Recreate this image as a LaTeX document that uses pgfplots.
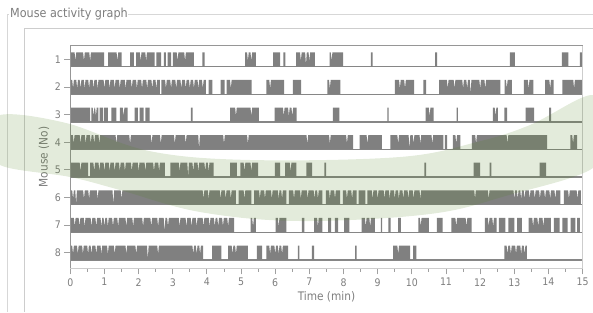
\documentclass[border=0pt]{standalone}
\usepackage{fontspec}
\setmainfont{DejaVu Sans Condensed}
\usepackage{pgfplots}
\usepackage{pgfplotstable}
\pgfplotsset{compat=1.18}
\definecolor{barc}{RGB}{128,128,128}
\definecolor{basec}{RGB}{135,135,135}
\definecolor{txt}{RGB}{125,125,125}
\definecolor{framec}{RGB}{150,150,150}
\definecolor{axc}{RGB}{205,205,205}
\definecolor{tickc}{RGB}{160,160,160}
\definecolor{wm}{RGB}{80,130,30}
\definecolor{fs}{RGB}{215,215,215}
\definecolor{panelc}{RGB}{205,205,205}

% activity of each mouse: x = time (min), v = 1 active / 0 idle (notches = short pauses)
\pgfplotstableread[row sep=\\]{x v\\
0 0\\0 1\\0.125 1\\0.15 0.4\\0.175 1\\0.375 1\\0.4 0.4\\0.425 1\\0.555 1\\0.58 0.4\\0.605 1\\0.99 1\\0.99 0\\
1.11 0\\1.11 1\\1.355 1\\1.38 0.4\\1.405 1\\1.5 1\\1.5 0\\
1.75 0\\1.75 1\\1.86 1\\1.86 0\\
1.93 0\\1.93 1\\2.035 1\\2.06 0.4\\2.085 1\\2.195 1\\2.22 0.4\\2.245 1\\2.47 1\\2.47 0\\
2.52 0\\2.52 1\\2.66 1\\2.66 0\\
2.74 0\\2.74 1\\2.8 1\\2.8 0\\
2.85 0\\2.85 1\\2.95 1\\2.95 0\\
3 0\\3 1\\3.115 1\\3.14 0.4\\3.165 1\\3.335 1\\3.36 0.4\\3.385 1\\3.62 1\\3.62 0\\
3.87 0\\3.87 1\\3.93 1\\3.93 0\\
5.12 0\\5.12 1\\5.175 1\\5.2 0.4\\5.225 1\\5.275 1\\5.3 0.4\\5.325 1\\5.43 1\\5.43 0\\
5.94 0\\5.94 1\\6.14 1\\6.14 0\\
6.24 0\\6.24 1\\6.3 1\\6.3 0\\
6.61 0\\6.61 1\\6.725 1\\6.75 0.4\\6.775 1\\6.875 1\\6.9 0.1\\6.925 1\\6.975 1\\7 0.4\\7.025 1\\7.16 1\\7.16 0\\
7.59 0\\7.59 1\\7.625 1\\7.65 0.4\\7.675 1\\7.99 1\\7.99 0\\
8.8 0\\8.8 1\\8.85 1\\8.85 0\\
10.68 0\\10.68 1\\10.74 1\\10.74 0\\
12.87 0\\12.87 1\\13.02 1\\13.02 0\\
14.39 0\\14.39 1\\14.58 1\\14.58 0\\
14.92 0\\14.92 1\\14.98 1\\14.98 0\\
15 0\\
}\rA

\pgfplotstableread[row sep=\\]{x v\\
0 0\\0 1\\0.055 1\\0.08 0.4\\0.105 1\\0.175 1\\0.2 0.4\\0.225 1\\0.275 1\\0.3 0.4\\0.325 1\\0.395 1\\0.42 0.4\\0.445 1\\
0.525 1\\0.55 0.4\\0.575 1\\0.655 1\\0.68 0.4\\0.705 1\\0.775 1\\0.8 0.4\\0.825 1\\0.975 1\\1 0.4\\1.025 1\\
1.125 1\\1.15 0.4\\1.175 1\\1.275 1\\1.3 0.4\\1.325 1\\1.425 1\\1.45 0.4\\1.475 1\\1.595 1\\1.62 0.4\\1.645 1\\
1.775 1\\1.8 0.4\\1.825 1\\1.925 1\\1.95 0.4\\1.975 1\\2.075 1\\2.1 0.4\\2.125 1\\2.225 1\\2.25 0.4\\2.275 1\\
2.375 1\\2.4 0.4\\2.425 1\\2.495 1\\2.52 0.4\\2.545 1\\2.62 1\\2.62 0\\
2.67 0\\2.67 1\\2.775 1\\2.8 0.4\\2.825 1\\2.925 1\\2.95 0.4\\2.975 1\\3.075 1\\3.1 0.4\\3.125 1\\3.225 1\\3.25 0.4\\3.275 1\\
3.355 1\\3.38 0.4\\3.405 1\\3.475 1\\3.5 0.4\\3.525 1\\3.595 1\\3.62 0.4\\3.645 1\\3.725 1\\3.75 0.4\\3.775 1\\3.855 1\\3.88 0.4\\3.905 1\\3.97 1\\3.97 0\\
4.05 0\\4.05 1\\4.16 1\\4.16 0\\
4.4 0\\4.4 1\\4.52 1\\4.52 0\\
4.58 0\\4.58 1\\4.675 1\\4.7 0.4\\4.725 1\\5.31 1\\5.31 0\\
5.74 0\\5.74 1\\5.825 1\\5.85 0.4\\5.875 1\\6.26 1\\6.26 0\\
6.52 0\\6.52 1\\6.76 1\\6.76 0\\
7.53 0\\7.53 1\\7.575 1\\7.6 0.4\\7.625 1\\7.91 1\\7.91 0\\
9.5 0\\9.5 1\\9.625 1\\9.65 0.4\\9.675 1\\9.775 1\\9.8 0.4\\9.825 1\\10.07 1\\10.07 0\\
10.34 0\\10.34 1\\10.42 1\\10.42 0\\
10.8 0\\10.8 1\\11.025 1\\11.05 0.4\\11.075 1\\11.225 1\\11.25 0.4\\11.275 1\\11.475 1\\11.5 0.4\\11.525 1\\11.595 1\\11.62 0.4\\11.645 1\\
11.695 1\\11.72 0.05\\11.745 1\\11.975 1\\12 0.4\\12.025 1\\12.125 1\\12.15 0.4\\12.175 1\\12.59 1\\12.59 0\\
12.72 0\\12.72 1\\12.755 1\\12.78 0.4\\12.805 1\\12.93 1\\12.93 0\\
13.28 0\\13.28 1\\13.395 1\\13.42 0.4\\13.445 1\\13.56 1\\13.56 0\\
13.9 0\\13.9 1\\14.025 1\\14.05 0.4\\14.075 1\\14.15 1\\14.15 0\\
14.41 0\\14.41 1\\14.725 1\\14.75 0.4\\14.775 1\\14.98 1\\14.98 0\\
15 0\\
}\rB

\pgfplotstableread[row sep=\\]{x v\\
0 0\\0 1\\0.58 1\\0.58 0\\
0.62 0\\0.62 1\\0.655 1\\0.68 0.4\\0.705 1\\0.725 1\\0.75 0.4\\0.775 1\\0.82 1\\0.82 0\\
0.86 0\\0.86 1\\0.96 1\\0.96 0\\
0.99 0\\0.99 1\\1.1 1\\1.1 0\\
1.2 0\\1.2 1\\1.35 1\\1.35 0\\
1.45 0\\1.45 1\\1.535 1\\1.56 0.4\\1.585 1\\1.68 1\\1.68 0\\
1.88 0\\1.88 1\\1.98 1\\1.98 0\\
2.03 0\\2.03 1\\2.15 1\\2.15 0\\
2.2 0\\2.2 1\\2.32 1\\2.32 0\\
3.53 0\\3.53 1\\3.58 1\\3.58 0\\
4.68 0\\4.68 1\\4.825 1\\4.85 0.4\\4.875 1\\5.275 1\\5.3 0.4\\5.325 1\\5.52 1\\5.52 0\\
5.98 0\\5.98 1\\6.225 1\\6.25 0.4\\6.275 1\\6.375 1\\6.4 0.4\\6.425 1\\6.475 1\\6.5 0.4\\6.525 1\\6.63 1\\6.63 0\\
7.69 0\\7.69 1\\7.88 1\\7.88 0\\
9.28 0\\9.28 1\\9.32 1\\9.32 0\\
10.4 0\\10.4 1\\10.495 1\\10.52 0.4\\10.545 1\\10.64 1\\10.64 0\\
11.31 0\\11.31 1\\11.35 1\\11.35 0\\
12.37 0\\12.37 1\\12.425 1\\12.45 0.4\\12.475 1\\12.52 1\\12.52 0\\
12.71 0\\12.71 1\\12.79 1\\12.79 0\\
13.33 0\\13.33 1\\13.58 1\\13.58 0\\
14.02 0\\14.02 1\\14.08 1\\14.08 0\\
15 0\\
}\rC

\pgfplotstableread[row sep=\\]{x v\\
0 0\\0 1\\0.075 1\\0.1 0.4\\0.125 1\\0.275 1\\0.3 0.4\\0.325 1\\0.425 1\\0.45 0.4\\0.475 1\\0.575 1\\0.6 0.4\\0.625 1\\
0.675 1\\0.7 0.4\\0.725 1\\0.825 1\\0.85 0.4\\0.875 1\\1.325 1\\1.35 0.4\\1.375 1\\1.725 1\\1.75 0.4\\1.775 1\\
2.355 1\\2.38 0.4\\2.405 1\\2.625 1\\2.65 0.4\\2.675 1\\3.035 1\\3.06 0.4\\3.085 1\\3.355 1\\3.38 0.4\\3.405 1\\
3.745 1\\3.77 0.05\\3.795 1\\4.475 1\\4.5 0.4\\4.525 1\\5.175 1\\5.2 0.4\\5.225 1\\6.915 1\\6.94 0.4\\6.965 1\\
7.575 1\\7.6 0.4\\7.625 1\\8.075 1\\8.1 0.4\\8.125 1\\8.28 1\\8.28 0\\
8.47 0\\8.47 1\\8.675 1\\8.7 0.4\\8.725 1\\9.12 1\\9.12 0\\
9.37 0\\9.37 1\\9.575 1\\9.6 0.4\\9.625 1\\9.905 1\\9.93 0.05\\9.955 1\\10.025 1\\10.05 0.4\\10.075 1\\10.225 1\\10.25 0.4\\10.275 1\\10.575 1\\10.6 0.4\\10.625 1\\10.92 1\\10.92 0\\
10.97 0\\10.97 1\\11.03 1\\11.03 0\\
11.2 0\\11.2 1\\11.275 1\\11.3 0.4\\11.325 1\\11.42 1\\11.42 0\\
11.76 0\\11.76 1\\11.855 1\\11.88 0.4\\11.905 1\\12.775 1\\12.8 0.4\\12.825 1\\13.96 1\\13.96 0\\
14.64 0\\14.64 1\\14.695 1\\14.72 0.4\\14.745 1\\14.84 1\\14.84 0\\
15 0\\
}\rD

\pgfplotstableread[row sep=\\]{x v\\
0 0\\0 1\\0.275 1\\0.3 0.4\\0.325 1\\0.52 1\\0.52 0\\
0.58 0\\0.58 1\\0.675 1\\0.7 0.4\\0.725 1\\0.825 1\\0.85 0.4\\0.875 1\\0.975 1\\1 0.4\\1.025 1\\1.125 1\\1.15 0.4\\1.175 1\\
1.275 1\\1.3 0.4\\1.325 1\\1.425 1\\1.45 0.4\\1.475 1\\1.575 1\\1.6 0.4\\1.625 1\\1.775 1\\1.8 0.4\\1.825 1\\
1.975 1\\2 0.4\\2.025 1\\2.175 1\\2.2 0.4\\2.225 1\\2.425 1\\2.45 0.4\\2.475 1\\2.575 1\\2.6 0.4\\2.625 1\\2.77 1\\2.77 0\\
2.93 0\\2.93 1\\3.175 1\\3.2 0.4\\3.225 1\\3.425 1\\3.45 0.05\\3.475 1\\3.575 1\\3.6 0.4\\3.625 1\\3.725 1\\3.75 0.4\\3.775 1\\
3.925 1\\3.95 0.4\\3.975 1\\4.025 1\\4.05 0.4\\4.075 1\\4.2 1\\4.2 0\\
4.68 0\\4.68 1\\4.88 1\\4.88 0\\
4.98 0\\4.98 1\\5.075 1\\5.1 0.4\\5.125 1\\5.275 1\\5.3 0.4\\5.325 1\\5.5 1\\5.5 0\\
5.99 0\\5.99 1\\6.14 1\\6.14 0\\
6.29 0\\6.29 1\\6.425 1\\6.45 0.4\\6.475 1\\6.62 1\\6.62 0\\
6.91 0\\6.91 1\\7.08 1\\7.08 0\\
7.44 0\\7.44 1\\7.49 1\\7.49 0\\
10.37 0\\10.37 1\\10.42 1\\10.42 0\\
11.81 0\\11.81 1\\12 1\\12 0\\
12.28 0\\12.28 1\\12.33 1\\12.33 0\\
13.74 0\\13.74 1\\13.93 1\\13.93 0\\
15 0\\
}\rE

\pgfplotstableread[row sep=\\]{x v\\
0 0\\0 1\\0.055 1\\0.08 0.4\\0.105 1\\0.145 1\\0.17 0.05\\0.195 1\\0.375 1\\0.4 0.4\\0.425 1\\0.525 1\\0.55 0.4\\0.575 1\\
0.775 1\\0.8 0.4\\0.825 1\\1.235 1\\1.26 0.05\\1.285 1\\1.475 1\\1.5 0.4\\1.525 1\\3.875 1\\3.9 0.4\\3.925 1\\
4.025 1\\4.05 0.4\\4.075 1\\4.375 1\\4.4 0.4\\4.425 1\\4.525 1\\4.55 0.4\\4.575 1\\4.675 1\\4.7 0.4\\4.725 1\\4.85 1\\4.85 0\\
4.93 0\\4.93 1\\5.075 1\\5.1 0.4\\5.125 1\\5.3 1\\5.3 0\\
5.38 0\\5.38 1\\5.525 1\\5.55 0.4\\5.575 1\\5.675 1\\5.7 0.4\\5.725 1\\5.875 1\\5.9 0.4\\5.925 1\\6.075 1\\6.1 0.4\\6.125 1\\6.175 1\\6.2 0.4\\6.225 1\\6.33 1\\6.33 0\\
6.4 0\\6.4 1\\6.525 1\\6.55 0.4\\6.575 1\\6.725 1\\6.75 0.4\\6.775 1\\6.925 1\\6.95 0.4\\6.975 1\\7.125 1\\7.15 0.4\\7.175 1\\7.225 1\\7.25 0.4\\7.275 1\\7.38 1\\7.38 0\\
7.48 0\\7.48 1\\7.575 1\\7.6 0.4\\7.625 1\\7.725 1\\7.75 0.4\\7.775 1\\7.9 1\\7.9 0\\
7.98 0\\7.98 1\\8.075 1\\8.1 0.4\\8.125 1\\8.225 1\\8.25 0.4\\8.275 1\\8.38 1\\8.38 0\\
8.44 0\\8.44 1\\8.64 1\\8.64 0\\
8.7 0\\8.7 1\\8.825 1\\8.85 0.4\\8.875 1\\8.975 1\\9 0.4\\9.025 1\\9.175 1\\9.2 0.4\\9.225 1\\9.325 1\\9.35 0.4\\9.375 1\\
9.475 1\\9.5 0.4\\9.525 1\\9.595 1\\9.62 0.4\\9.645 1\\9.725 1\\9.75 0.4\\9.775 1\\9.875 1\\9.9 0.4\\9.925 1\\
10.025 1\\10.05 0.4\\10.075 1\\10.225 1\\10.25 0.4\\10.275 1\\11.825 1\\11.85 0.4\\11.875 1\\12.225 1\\12.25 0.4\\12.275 1\\
12.975 1\\13 0.4\\13.025 1\\13.075 1\\13.1 0.4\\13.125 1\\13.175 1\\13.2 0.4\\13.225 1\\13.275 1\\13.3 0.4\\13.325 1\\
13.425 1\\13.45 0.4\\13.475 1\\13.575 1\\13.6 0.4\\13.625 1\\13.725 1\\13.75 0.4\\13.775 1\\13.875 1\\13.9 0.4\\13.925 1\\
14.025 1\\14.05 0.4\\14.075 1\\14.175 1\\14.2 0.4\\14.225 1\\14.35 1\\14.35 0\\
14.45 0\\14.45 1\\14.575 1\\14.6 0.4\\14.625 1\\14.825 1\\14.85 0.4\\14.875 1\\14.95 1\\14.95 0\\
15 0\\
}\rF

\pgfplotstableread[row sep=\\]{x v\\
0 0\\0 1\\0.105 1\\0.13 0.4\\0.155 1\\0.245 1\\0.27 0.4\\0.295 1\\0.395 1\\0.42 0.4\\0.445 1\\0.595 1\\0.62 0.4\\0.645 1\\
0.735 1\\0.76 0.4\\0.785 1\\0.885 1\\0.91 0.4\\0.935 1\\0.975 1\\1 0.4\\1.025 1\\1.075 1\\1.1 0.4\\1.125 1\\
1.225 1\\1.25 0.4\\1.275 1\\1.375 1\\1.4 0.4\\1.425 1\\1.615 1\\1.64 0.4\\1.665 1\\1.815 1\\1.84 0.4\\1.865 1\\
2.105 1\\2.13 0.4\\2.155 1\\2.345 1\\2.37 0.4\\2.395 1\\2.545 1\\2.57 0.4\\2.595 1\\2.735 1\\2.76 0.05\\2.785 1\\
2.835 1\\2.86 0.4\\2.885 1\\3.175 1\\3.2 0.4\\3.225 1\\3.375 1\\3.4 0.4\\3.425 1\\3.525 1\\3.55 0.4\\3.575 1\\
3.675 1\\3.7 0.4\\3.725 1\\3.875 1\\3.9 0.4\\3.925 1\\4.055 1\\4.08 0.4\\4.105 1\\4.205 1\\4.23 0.4\\4.255 1\\
4.305 1\\4.33 0.4\\4.355 1\\4.445 1\\4.47 0.4\\4.495 1\\4.595 1\\4.62 0.4\\4.645 1\\4.8 1\\4.8 0\\
5.28 0\\5.28 1\\5.325 1\\5.35 0.4\\5.375 1\\5.43 1\\5.43 0\\
6.01 0\\6.01 1\\6.075 1\\6.1 0.4\\6.125 1\\6.33 1\\6.33 0\\
6.78 0\\6.78 1\\6.85 1\\6.85 0\\
7.14 0\\7.14 1\\7.225 1\\7.25 0.4\\7.275 1\\7.38 1\\7.38 0\\
7.55 0\\7.55 1\\7.64 1\\7.64 0\\
7.75 0\\7.75 1\\7.84 1\\7.84 0\\
8.02 0\\8.02 1\\8.17 1\\8.17 0\\
8.53 0\\8.53 1\\8.625 1\\8.65 0.4\\8.675 1\\8.755 1\\8.78 0.4\\8.805 1\\8.92 1\\8.92 0\\
9.09 0\\9.09 1\\9.13 1\\9.13 0\\
9.31 0\\9.31 1\\9.38 1\\9.38 0\\
9.6 0\\9.6 1\\9.68 1\\9.68 0\\
10.19 0\\10.19 1\\10.235 1\\10.26 0.4\\10.285 1\\10.5 1\\10.5 0\\
10.73 0\\10.73 1\\10.9 1\\10.9 0\\
11.16 0\\11.16 1\\11.275 1\\11.3 0.4\\11.325 1\\11.575 1\\11.6 0.4\\11.625 1\\11.75 1\\11.75 0\\
12.14 0\\12.14 1\\12.225 1\\12.25 0.4\\12.275 1\\12.355 1\\12.38 0.4\\12.405 1\\12.48 1\\12.48 0\\
12.55 0\\12.55 1\\12.74 1\\12.74 0\\
12.83 0\\12.83 1\\13 1\\13 0\\
13.08 0\\13.08 1\\13.22 1\\13.22 0\\
13.42 0\\13.42 1\\13.525 1\\13.55 0.4\\13.575 1\\13.675 1\\13.7 0.4\\13.725 1\\13.825 1\\13.85 0.4\\13.875 1\\14.07 1\\14.07 0\\
14.16 0\\14.16 1\\14.33 1\\14.33 0\\
14.41 0\\14.41 1\\14.56 1\\14.56 0\\
14.65 0\\14.65 1\\14.79 1\\14.79 0\\
14.84 0\\14.84 1\\14.92 1\\14.92 0\\
15 0\\
}\rG

\pgfplotstableread[row sep=\\]{x v\\
0 0\\0 1\\0.055 1\\0.08 0.4\\0.105 1\\0.195 1\\0.22 0.4\\0.245 1\\0.345 1\\0.37 0.4\\0.395 1\\0.495 1\\0.52 0.4\\0.545 1\\
0.595 1\\0.62 0.4\\0.645 1\\0.735 1\\0.76 0.4\\0.785 1\\0.885 1\\0.91 0.4\\0.935 1\\1.075 1\\1.1 0.4\\1.125 1\\
1.275 1\\1.3 0.4\\1.325 1\\1.615 1\\1.64 0.4\\1.665 1\\1.905 1\\1.93 0.4\\1.955 1\\2.245 1\\2.27 0.05\\2.295 1\\
2.545 1\\2.57 0.4\\2.595 1\\3.575 1\\3.6 0.4\\3.625 1\\3.675 1\\3.7 0.4\\3.725 1\\3.775 1\\3.8 0.4\\3.825 1\\3.89 1\\3.89 0\\
4.15 0\\4.15 1\\4.42 1\\4.42 0\\
4.62 0\\4.62 1\\4.725 1\\4.75 0.4\\4.775 1\\4.825 1\\4.85 0.4\\4.875 1\\5.2 1\\5.2 0\\
5.46 0\\5.46 1\\5.62 1\\5.62 0\\
5.74 0\\5.74 1\\5.825 1\\5.85 0.4\\5.875 1\\5.975 1\\6 0.4\\6.025 1\\6.075 1\\6.1 0.4\\6.125 1\\6.175 1\\6.2 0.4\\6.225 1\\6.38 1\\6.38 0\\
6.66 0\\6.66 1\\6.71 1\\6.71 0\\
7.07 0\\7.07 1\\7.14 1\\7.14 0\\
8.34 0\\8.34 1\\8.38 1\\8.38 0\\
9.45 0\\9.45 1\\9.575 1\\9.6 0.4\\9.625 1\\9.95 1\\9.95 0\\
10.04 0\\10.04 1\\10.13 1\\10.13 0\\
12.71 0\\12.71 1\\12.775 1\\12.8 0.4\\12.825 1\\12.875 1\\12.9 0.4\\12.925 1\\13.025 1\\13.05 0.4\\13.075 1\\13.175 1\\13.2 0.4\\13.225 1\\13.275 1\\13.3 0.4\\13.325 1\\13.37 1\\13.37 0\\
15 0\\
}\rH

\begin{document}
\begin{tikzpicture}
\begin{axis}[
  name=ax,
  scale only axis, width=512.3bp, height=222.6bp,
  xmin=0, xmax=15, ymin=0.435, ymax=8.5,
  axis line style={draw=none},
  clip=false,
  xtick={0,...,15}, minor x tick num=1,
  ytick={1,...,8}, yticklabels={8,7,6,5,4,3,2,1},
  xtick pos=bottom, ytick pos=left,
  tick align=outside,
  major tick length=6bp, minor tick length=3.5bp,
  every tick/.style={draw=tickc, line width=0.9bp},
  /pgf/number format/assume math mode=true,
  tick label style={font=\fontsize{10.5}{12}\selectfont, text=txt},
  xticklabel style={yshift=-0.5bp},
  xlabel={Time (min)}, ylabel={Mouse (No)},
  xlabel style={at={(axis description cs:0.5,-0.127)}, anchor=center, font=\fontsize{11.8}{13}\selectfont, text=txt},
  ylabel style={at={(axis description cs:-0.0513,0.5)}, anchor=center, font=\fontsize{11.8}{13}\selectfont, text=txt},
]
% baselines
\addplot[basec, line width=1.3bp] coordinates {(0,7.74) (15,7.74)};
\addplot[basec, line width=1.3bp] coordinates {(0,6.74) (15,6.74)};
\addplot[basec, line width=1.3bp] coordinates {(0,5.74) (15,5.74)};
\addplot[basec, line width=1.3bp] coordinates {(0,4.74) (15,4.74)};
\addplot[basec, line width=1.3bp] coordinates {(0,3.74) (15,3.74)};
\addplot[basec, line width=1.3bp] coordinates {(0,2.74) (15,2.74)};
\addplot[basec, line width=1.3bp] coordinates {(0,1.74) (15,1.74)};
\addplot[basec, line width=1.3bp] coordinates {(0,0.74) (15,0.74)};
% activity
\addplot[fill=barc, draw=none] table[x=x, y expr=7.74+0.52*\thisrow{v}] {\rA};
\addplot[fill=barc, draw=none] table[x=x, y expr=6.74+0.52*\thisrow{v}] {\rB};
\addplot[fill=barc, draw=none] table[x=x, y expr=5.74+0.52*\thisrow{v}] {\rC};
\addplot[fill=barc, draw=none] table[x=x, y expr=4.74+0.52*\thisrow{v}] {\rD};
\addplot[fill=barc, draw=none] table[x=x, y expr=3.74+0.52*\thisrow{v}] {\rE};
\addplot[fill=barc, draw=none] table[x=x, y expr=2.74+0.52*\thisrow{v}] {\rF};
\addplot[fill=barc, draw=none] table[x=x, y expr=1.74+0.52*\thisrow{v}] {\rG};
\addplot[fill=barc, draw=none] table[x=x, y expr=0.74+0.52*\thisrow{v}] {\rH};
% frame
\draw[framec, line width=1bp] (axis description cs:0,0) -- (axis description cs:0,1) -- (axis description cs:1,1);
\draw[axc, line width=1bp] (axis description cs:1,1) -- (axis description cs:1,0) -- (axis description cs:0,0);
\end{axis}
\begin{scope}[shift={(ax.south west)}, shift={(-70.3bp,-43.7bp)}, x=1bp, y=1bp]
\pgfresetboundingbox
\useasboundingbox (0,0) rectangle (593,312);
% fieldset and inner panel
\draw[fs, line width=1bp] (7.5,0) -- (7.5,297.5) -- (9,297.5);
\draw[fs, line width=1bp] (128,297.5) -- (593,297.5);
\node[anchor=west, text=txt, font=\fontsize{12.5}{14}\selectfont, inner sep=0pt] at (10,298) {Mouse activity graph};
\draw[panelc, line width=1bp] (24.5,0) -- (24.5,283.5) -- (593,283.5);
% watermark swoosh
\fill[wm, fill opacity=0.16] plot[smooth cycle, tension=0.6] coordinates {
 (0,197) (66,189) (149,161) (250,152) (400,155) (477,170) (530,187) (593,217)
 (600,180) (593,144) (509,117) (430,98) (300,91) (200,100) (120,122) (70,135) (0,147) (-5,172)};
\end{scope}
\end{tikzpicture}
\end{document}
